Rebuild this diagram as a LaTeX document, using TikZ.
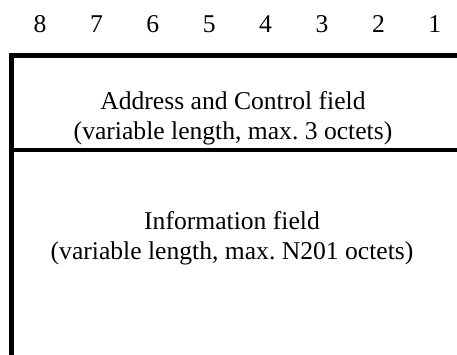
\documentclass[tikz,border=0pt]{standalone}
\usepackage{fontspec}
\setmainfont{Liberation Serif}
\frenchspacing
\begin{document}
\begin{tikzpicture}[x=1bp,y=-1bp,
  digit/.style={font=\fontsize{25.7}{30}\selectfont, anchor=base, inner sep=0pt},
  fieldtext/.style={font=\fontsize{25.7}{30}\selectfont\frenchspacing, anchor=base, align=center, inner sep=0pt},
  frame/.style={line width=4.5bp, line join=miter},
  divider/.style={line width=3.5bp}]
\useasboundingbox (0,0) rectangle (457,354);
\foreach \d [count=\i from 0] in {8,7,6,5,4,3,2,1}
  \node[digit] (n\d) at ({40+56.4*\i},32) {\d};
\coordinate (bl) at (11.3,358);
\coordinate (tl) at (11.3,55.5);
\coordinate (tr) at (460,55.5);
\coordinate (ml) at (11.3,150);
\coordinate (mr) at (460,150);
\draw[frame] (bl) -- (tl) -- (tr);
\draw[divider] (ml) -- (mr);
\node[fieldtext] (acf) at (233,139) {Address and Control field\\(variable length, max. 3 octets)};
\node[fieldtext] (inf) at (232,259) {Information field\\(variable length, max. N201 octets)};
\end{tikzpicture}
\end{document}
